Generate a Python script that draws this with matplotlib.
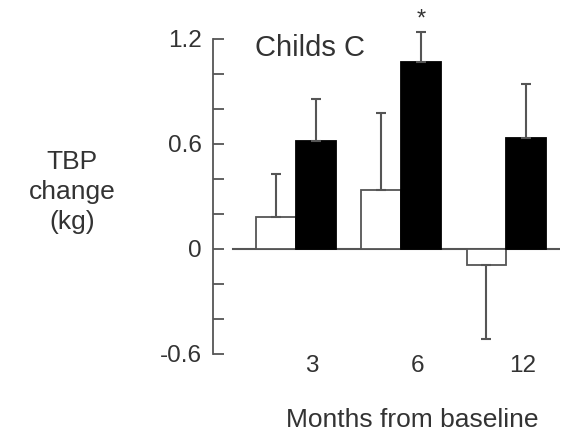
import matplotlib.pyplot as plt
import numpy as np

plt.rcParams['font.family'] = ['Liberation Sans', 'DejaVu Sans']

months = ['3', '6', '12']
control = [0.18, 0.335, -0.093]
control_err = [0.245, 0.44, 0.425]
treated = [0.615, 1.069, 0.634]
treated_err = [0.24, 0.17, 0.31]

grey = '#555555'
txt = '#333333'

fig = plt.figure(figsize=(5.64, 4.33), dpi=100)
ax = fig.add_axes([213/564, (433-353.7)/433, 347/564, (353.7-10)/433])

x = np.arange(len(months))
w = 0.38
off = -0.15
# white bars: error drawn away from zero only
ctrl_err = [[0, 0, control_err[2]], [control_err[0], control_err[1], 0]]
ax.bar(x + off - w/2, control, w, color='white', edgecolor=grey, linewidth=1.3,
       yerr=ctrl_err, error_kw=dict(ecolor=grey, elinewidth=1.5, capsize=3.5, capthick=1.5), zorder=2)
ax.bar(x + off + w/2, treated, w, color='black', edgecolor='black', linewidth=1.3,
       yerr=[[0]*3, treated_err], error_kw=dict(ecolor=grey, elinewidth=1.5, capsize=3.5, capthick=1.5), zorder=2)
ax.axhline(0, xmin=20/347, xmax=1, color=grey, linewidth=1.5, zorder=1)

# significance marker above 6-month treated bar
ax.text(x[1] + off + w/2, treated[1] + treated_err[1] + 0.07, '*', ha='center', va='center',
        fontsize=17, color=txt)

ax.set_xlim(-0.943, 2.36)
ax.set_ylim(-0.6, 1.364)
ax.set_xticks(x)
ax.set_xticklabels(months)
ax.set_yticks([-0.6, 0, 0.6, 1.2])
ax.set_yticklabels(['-0.6', '0', '0.6', '1.2'])
ax.set_yticks(np.arange(-0.6, 1.21, 0.2), minor=True)
ax.tick_params(axis='x', length=0, pad=1, labelsize=17.5, labelcolor=txt)
ax.tick_params(axis='y', which='both', direction='in', length=8, width=1.3, color=grey,
               pad=8, labelsize=17.5, labelcolor=txt)
for s in ['top', 'right', 'bottom']:
    ax.spines[s].set_visible(False)
ax.spines['left'].set_bounds(-0.6, 1.2)
ax.spines['left'].set_color(grey)
ax.spines['left'].set_linewidth(1.3)

ax.text(0.12, 0.889, 'Childs C', transform=ax.transAxes, fontsize=21, color=txt,
        ha='left', va='center')
fig.text(72/564, 1 - 192/433, 'TBP\nchange\n(kg)', ha='center', va='center',
         fontsize=19, color=txt, linespacing=1.3)
fig.text(412/564, 1 - 420/433, 'Months from baseline', ha='center', va='center',
         fontsize=19, color=txt)

fig.savefig('out.png', dpi=100)
